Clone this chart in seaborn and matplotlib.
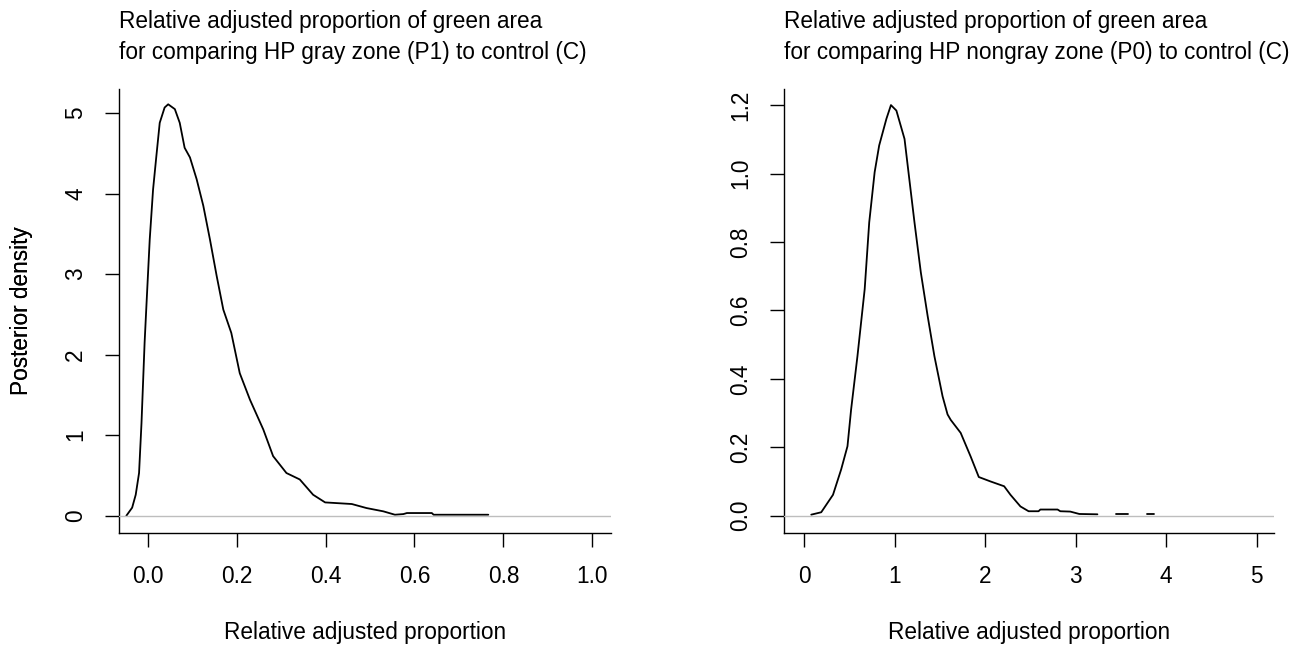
import numpy as np
import pandas as pd
import seaborn as sns
import matplotlib.pyplot as plt

# posterior density, HP gray zone (P1) vs control (C)
p1_x = [-0.048, -0.035, -0.027, -0.0195, -0.014, -0.007, -0.003, 0.0045, 0.012, 0.0195,
        0.027, 0.038, 0.046, 0.061, 0.072, 0.083, 0.095, 0.11, 0.125, 0.14,
        0.155, 0.17, 0.188, 0.207, 0.23, 0.26, 0.282, 0.312, 0.342, 0.372,
        0.399, 0.459, 0.492, 0.53, 0.556, 0.575, 0.583, 0.639, 0.643, 0.766]
p1_y = [0.0, 0.10, 0.26, 0.53, 1.15, 2.15, 2.6, 3.43, 4.05, 4.47,
        4.88, 5.07, 5.11, 5.05, 4.88, 4.57, 4.45, 4.18, 3.85, 3.43,
        2.98, 2.56, 2.27, 1.77, 1.44, 1.07, 0.74, 0.53, 0.45, 0.26,
        0.165, 0.145, 0.095, 0.054, 0.012, 0.02, 0.033, 0.033, 0.012, 0.012]

# posterior density, HP nongray zone (P0) vs control (C); the tail is broken into pieces
p0_x = [0.08, 0.19, 0.32, 0.41, 0.48, 0.52, 0.59, 0.67, 0.72, 0.78,
        0.83, 0.91, 0.96, 1.02, 1.11, 1.145, 1.22, 1.29, 1.365, 1.44,
        1.53, 1.585, 1.62, 1.73, 1.84, 1.93, 2.06, 2.21, 2.28, 2.39,
        2.48, 2.59, 2.61, 2.80, 2.83, 2.94, 3.04, 3.24,
        3.44, 3.58,
        3.79, 3.87]
p0_y = [0.003, 0.01, 0.061, 0.135, 0.203, 0.31, 0.466, 0.662, 0.857, 1.004,
        1.082, 1.16, 1.2, 1.184, 1.101, 1.023, 0.857, 0.711, 0.584, 0.466,
        0.349, 0.296, 0.28, 0.242, 0.173, 0.113, 0.10, 0.086, 0.061, 0.027,
        0.013, 0.013, 0.018, 0.018, 0.013, 0.012, 0.005, 0.004,
        0.004, 0.004,
        0.004, 0.004]
p0_seg = [0] * 38 + [1] * 2 + [2] * 2

titles = ["Relative adjusted proportion of green area\nfor comparing HP gray zone (P1) to control (C)",
          "Relative adjusted proportion of green area\nfor comparing HP nongray zone (P0) to control (C)"]
xticks = [[0.0, 0.2, 0.4, 0.6, 0.8, 1.0], [0, 1, 2, 3, 4, 5]]
xticklabels = [["0.0", "0.2", "0.4", "0.6", "0.8", "1.0"], ["0", "1", "2", "3", "4", "5"]]
yticks = [[0, 1, 2, 3, 4, 5], [0.0, 0.2, 0.4, 0.6, 0.8, 1.0, 1.2]]
yticklabels = [["0", "1", "2", "3", "4", "5"], ["0.0", "0.2", "0.4", "0.6", "0.8", "1.0", "1.2"]]

sns.set_style("ticks")
plt.rcParams['font.family'] = ['Liberation Sans', 'DejaVu Sans']
plt.rcParams['text.color'] = 'black'
plt.rcParams['axes.labelcolor'] = 'black'
fs = 16.3

W, H = 1308, 647
fig = plt.figure(figsize=(W / 100, H / 100), dpi=100)

# axes boxes in pixels: left, right, top, bottom
boxes = [(119, 611, 89, 533), (784, 1274, 89, 533)]
xlims = [(-0.0646, 1.042), (-0.221, 5.19)]
ylims = [(-0.215, 5.30), (-0.0506, 1.247)]

df1 = pd.DataFrame({'x': p1_x, 'y': p1_y})
df0 = pd.DataFrame({'x': p0_x, 'y': p0_y, 'seg': p0_seg})

for i in range(2):
    l, r, t, b = boxes[i]
    ax = fig.add_axes([l / W, (H - b) / H, (r - l) / W, (b - t) / H])
    if i == 0:
        sns.lineplot(data=df1, x='x', y='y', color='black', lw=1.3, sort=False,
                     estimator=None, ax=ax)
    else:
        sns.lineplot(data=df0, x='x', y='y', units='seg', color='black', lw=1.3,
                     sort=False, estimator=None, ax=ax)
    for ln in ax.lines:
        ln.set_solid_joinstyle('round')
    ax.axhline(0, color='#bebebe', lw=1.0, zorder=3)
    ax.set_xlim(*xlims[i])
    ax.set_ylim(*ylims[i])
    ax.set_xticks(xticks[i])
    ax.set_xticklabels(xticklabels[i])
    ax.set_yticks(yticks[i])
    ax.set_yticklabels(yticklabels[i], rotation=90, va='center')
    for s in ['top', 'right']:
        ax.spines[s].set_visible(False)
    for s in ['left', 'bottom']:
        ax.spines[s].set_linewidth(1.0)
        ax.spines[s].set_color('black')
    ax.tick_params(length=10, width=1.0, color='black', labelsize=fs, pad=13,
                   labelcolor='black')
    ax.set_xlabel("Relative adjusted proportion", fontsize=fs, va='center')
    ax.xaxis.set_label_coords(0.5, -(632 - b) / (b - t))
    ax.set_ylabel("Posterior density", fontsize=fs, va='center')
    ax.yaxis.set_label_coords(-(l - 22) / (r - l), 0.5)
    # va='baseline' sits the last line of the title on this y
    ax.text(0, (b - 59) / (b - t), titles[i], transform=ax.transAxes, ha='left',
            va='baseline', fontsize=fs, linespacing=1.43)

fig.savefig('out.png', dpi=100)
